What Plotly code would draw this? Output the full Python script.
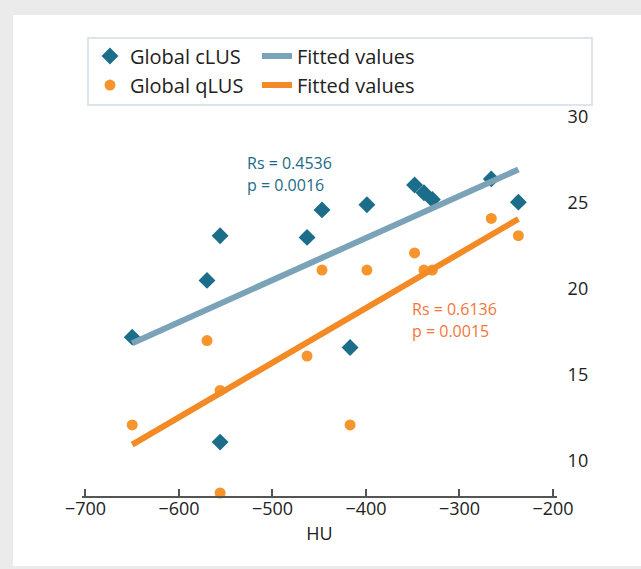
import plotly.graph_objects as go

# Data
hu = [-650, -570, -556, -556, -463, -447, -417, -399, -348, -338, -329, -266, -237]
global_clus = [17.2, 20.5, 23.1, 11.1, 23.0, 24.6, 16.6, 24.9, 26.05, 25.6, 25.2, 26.4, 25.05]
global_qlus = [12.1, 17.0, 14.1, 8.14, 16.1, 21.1, 12.1, 21.1, 22.1, 21.1, 21.1, 24.1, 23.1]

fit_x = [-650, -237]
fit_clus = [16.85, 26.95]
fit_qlus = [10.95, 24.07]

x_ticks = [-700, -600, -500, -400, -300, -200]
y_ticks = [10, 15, 20, 25, 30]

C_DIAMOND = "#1c6d8a"
C_FIT_BLUE = "#7ba3b8"
C_DOT = "#f5952c"
C_FIT_ORANGE = "#f38a25"
C_TXT_BLUE = "#1d6a89"
C_TXT_ORANGE = "#f2763a"
FONT = "Open Sans"

fig = go.Figure()
fig.add_trace(go.Scatter(x=hu, y=global_clus, mode="markers", name="Global cLUS",
                         marker=dict(symbol="diamond", size=13, color=C_DIAMOND),
                         cliponaxis=False))
fig.add_trace(go.Scatter(x=fit_x, y=fit_clus, mode="lines", name="Fitted values",
                         line=dict(color=C_FIT_BLUE, width=6)))
fig.add_trace(go.Scatter(x=hu, y=global_qlus, mode="markers", name="Global qLUS",
                         marker=dict(symbol="circle", size=11, color=C_DOT),
                         cliponaxis=False))
fig.add_trace(go.Scatter(x=fit_x, y=fit_qlus, mode="lines", name="Fitted values",
                         line=dict(color=C_FIT_ORANGE, width=6)))

ann = [
    ("Rs = 0.4536", -529.5, 27.33, C_TXT_BLUE),
    ("p = 0.0016", -529.5, 26.05, C_TXT_BLUE),
    ("Rs = 0.6136", -353, 18.84, C_TXT_ORANGE),
    ("p = 0.0015", -353, 17.56, C_TXT_ORANGE),
]
for t, ax_, ay_, col in ann:
    fig.add_annotation(x=ax_, y=ay_, xref="x", yref="y", text=t, showarrow=False,
                       xanchor="left", yanchor="middle",
                       font=dict(family=FONT, size=16, color=col))

fig.update_layout(
    width=641, height=569,
    margin=dict(l=82, r=84, t=30, b=73),
    paper_bgcolor="#ebebeb",
    plot_bgcolor="rgba(0,0,0,0)",
    font=dict(family=FONT, size=18, color="#222222"),
    showlegend=True,
    legend=dict(orientation="h", x=0.0168, xanchor="left", y=0.986, yanchor="top",
                entrywidth=122, entrywidthmode="pixels",
                bgcolor="rgba(0,0,0,0)", borderwidth=0,
                font=dict(family=FONT, size=20, color="#222222"),
                traceorder="normal"),
    xaxis=dict(range=[-703.7, -195.7], tickvals=x_ticks,
               ticktext=[f"\u2212{abs(v)}" for v in x_ticks],
               showline=True, linecolor="#555555", linewidth=2,
               ticks="inside", ticklen=7, tickwidth=2, tickcolor="#555555",
               ticklabelstandoff=-5,
               showgrid=False, zeroline=False,
               tickfont=dict(family=FONT, size=18, color="#222222"),
               title=dict(text="HU", standoff=9,
                          font=dict(family=FONT, size=18, color="#222222"))),
    yaxis=dict(range=[7.965, 35.058], tickvals=y_ticks, side="right",
               showline=False, showgrid=False, zeroline=False,
               ticks="outside", ticklen=6, tickcolor="rgba(0,0,0,0)",
               tickfont=dict(family=FONT, size=18, color="#222222")),
    shapes=[
        dict(type="rect", xref="paper", yref="paper", x0=-0.1453, x1=1.25,
             y0=-0.150, y1=1.0322, fillcolor="white", line=dict(width=0),
             layer="below"),
        dict(type="rect", xref="paper", yref="paper", x0=0.0126, x1=1.0737,
             y0=0.839, y1=0.9828, fillcolor="rgba(0,0,0,0)",
             line=dict(color="#dbe5eb", width=2), layer="above"),
    ],
)

fig.write_html("out.html", config={"displayModeBar": False},
               post_script="document.body.style.margin='0';")
